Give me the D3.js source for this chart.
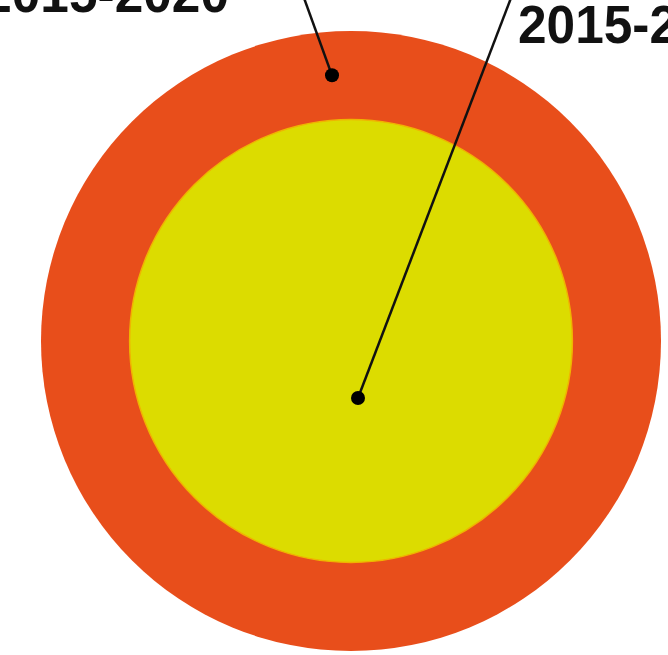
<!DOCTYPE html>
<html>
<head>
<meta charset="utf-8">
<script src="https://cdn.jsdelivr.net/npm/d3@7.9.0/dist/d3.min.js"></script>
<style>
  html, body { margin: 0; padding: 0; background: #fff; overflow: hidden; }
  svg { display: block; }
  .label { font-family: "Liberation Sans", Arial, sans-serif; font-weight: 700; fill: #111; }
</style>
</head>
<body>
<svg id="chart" width="668" height="655"></svg>
<script>
// two periods, drawn as nested circles sized by area
const periods = ['2015-2020', '2015-2025'];
const values = [100, 51];
const colors = ['#e84e1b', '#dcdc00'];

const width = 668;
const height = 655;
const cx = 351;
const cy = 341;

const svg = d3.select('#chart');

const r = d3.scaleSqrt().domain([0, d3.max(values)]).range([0, 310]);

svg.selectAll('circle.ring')
  .data(values)
  .join('circle')
  .attr('class', 'ring')
  .attr('cx', cx)
  .attr('cy', cy)
  .attr('r', (d) => r(d))
  .attr('fill', (d, i) => colors[i])
  .attr('stroke', (d, i) => (i === 1 ? '#f0b400' : 'none'))
  .attr('stroke-width', 1.5);

// leader lines: dot inside each shape, line out to its label
const notes = [
  { dot: [cx - 19, cy - (r(values[0]) + r(values[1])) / 2], end: [304, -2], text: [229, 12], anchor: 'end' },
  { dot: [cx + 7, cy + 57], end: [511, -2], text: [518, 43], anchor: 'start' }
];

const g = svg.append('g');
notes.forEach((n, i) => {
  g.append('line')
    .attr('x1', n.dot[0]).attr('y1', n.dot[1])
    .attr('x2', n.end[0]).attr('y2', n.end[1])
    .attr('stroke', '#111')
    .attr('stroke-width', 2.5);
  g.append('circle')
    .attr('cx', n.dot[0]).attr('cy', n.dot[1])
    .attr('r', 7)
    .attr('fill', '#000');
  g.append('text')
    .attr('class', 'label')
    .attr('transform', `translate(${n.text[0]},${n.text[1]}) scale(0.97,1)`)
    .attr('text-anchor', n.anchor)
    .attr('font-size', 53)
    .text(periods[i]);
});
</script>
</body>
</html>
